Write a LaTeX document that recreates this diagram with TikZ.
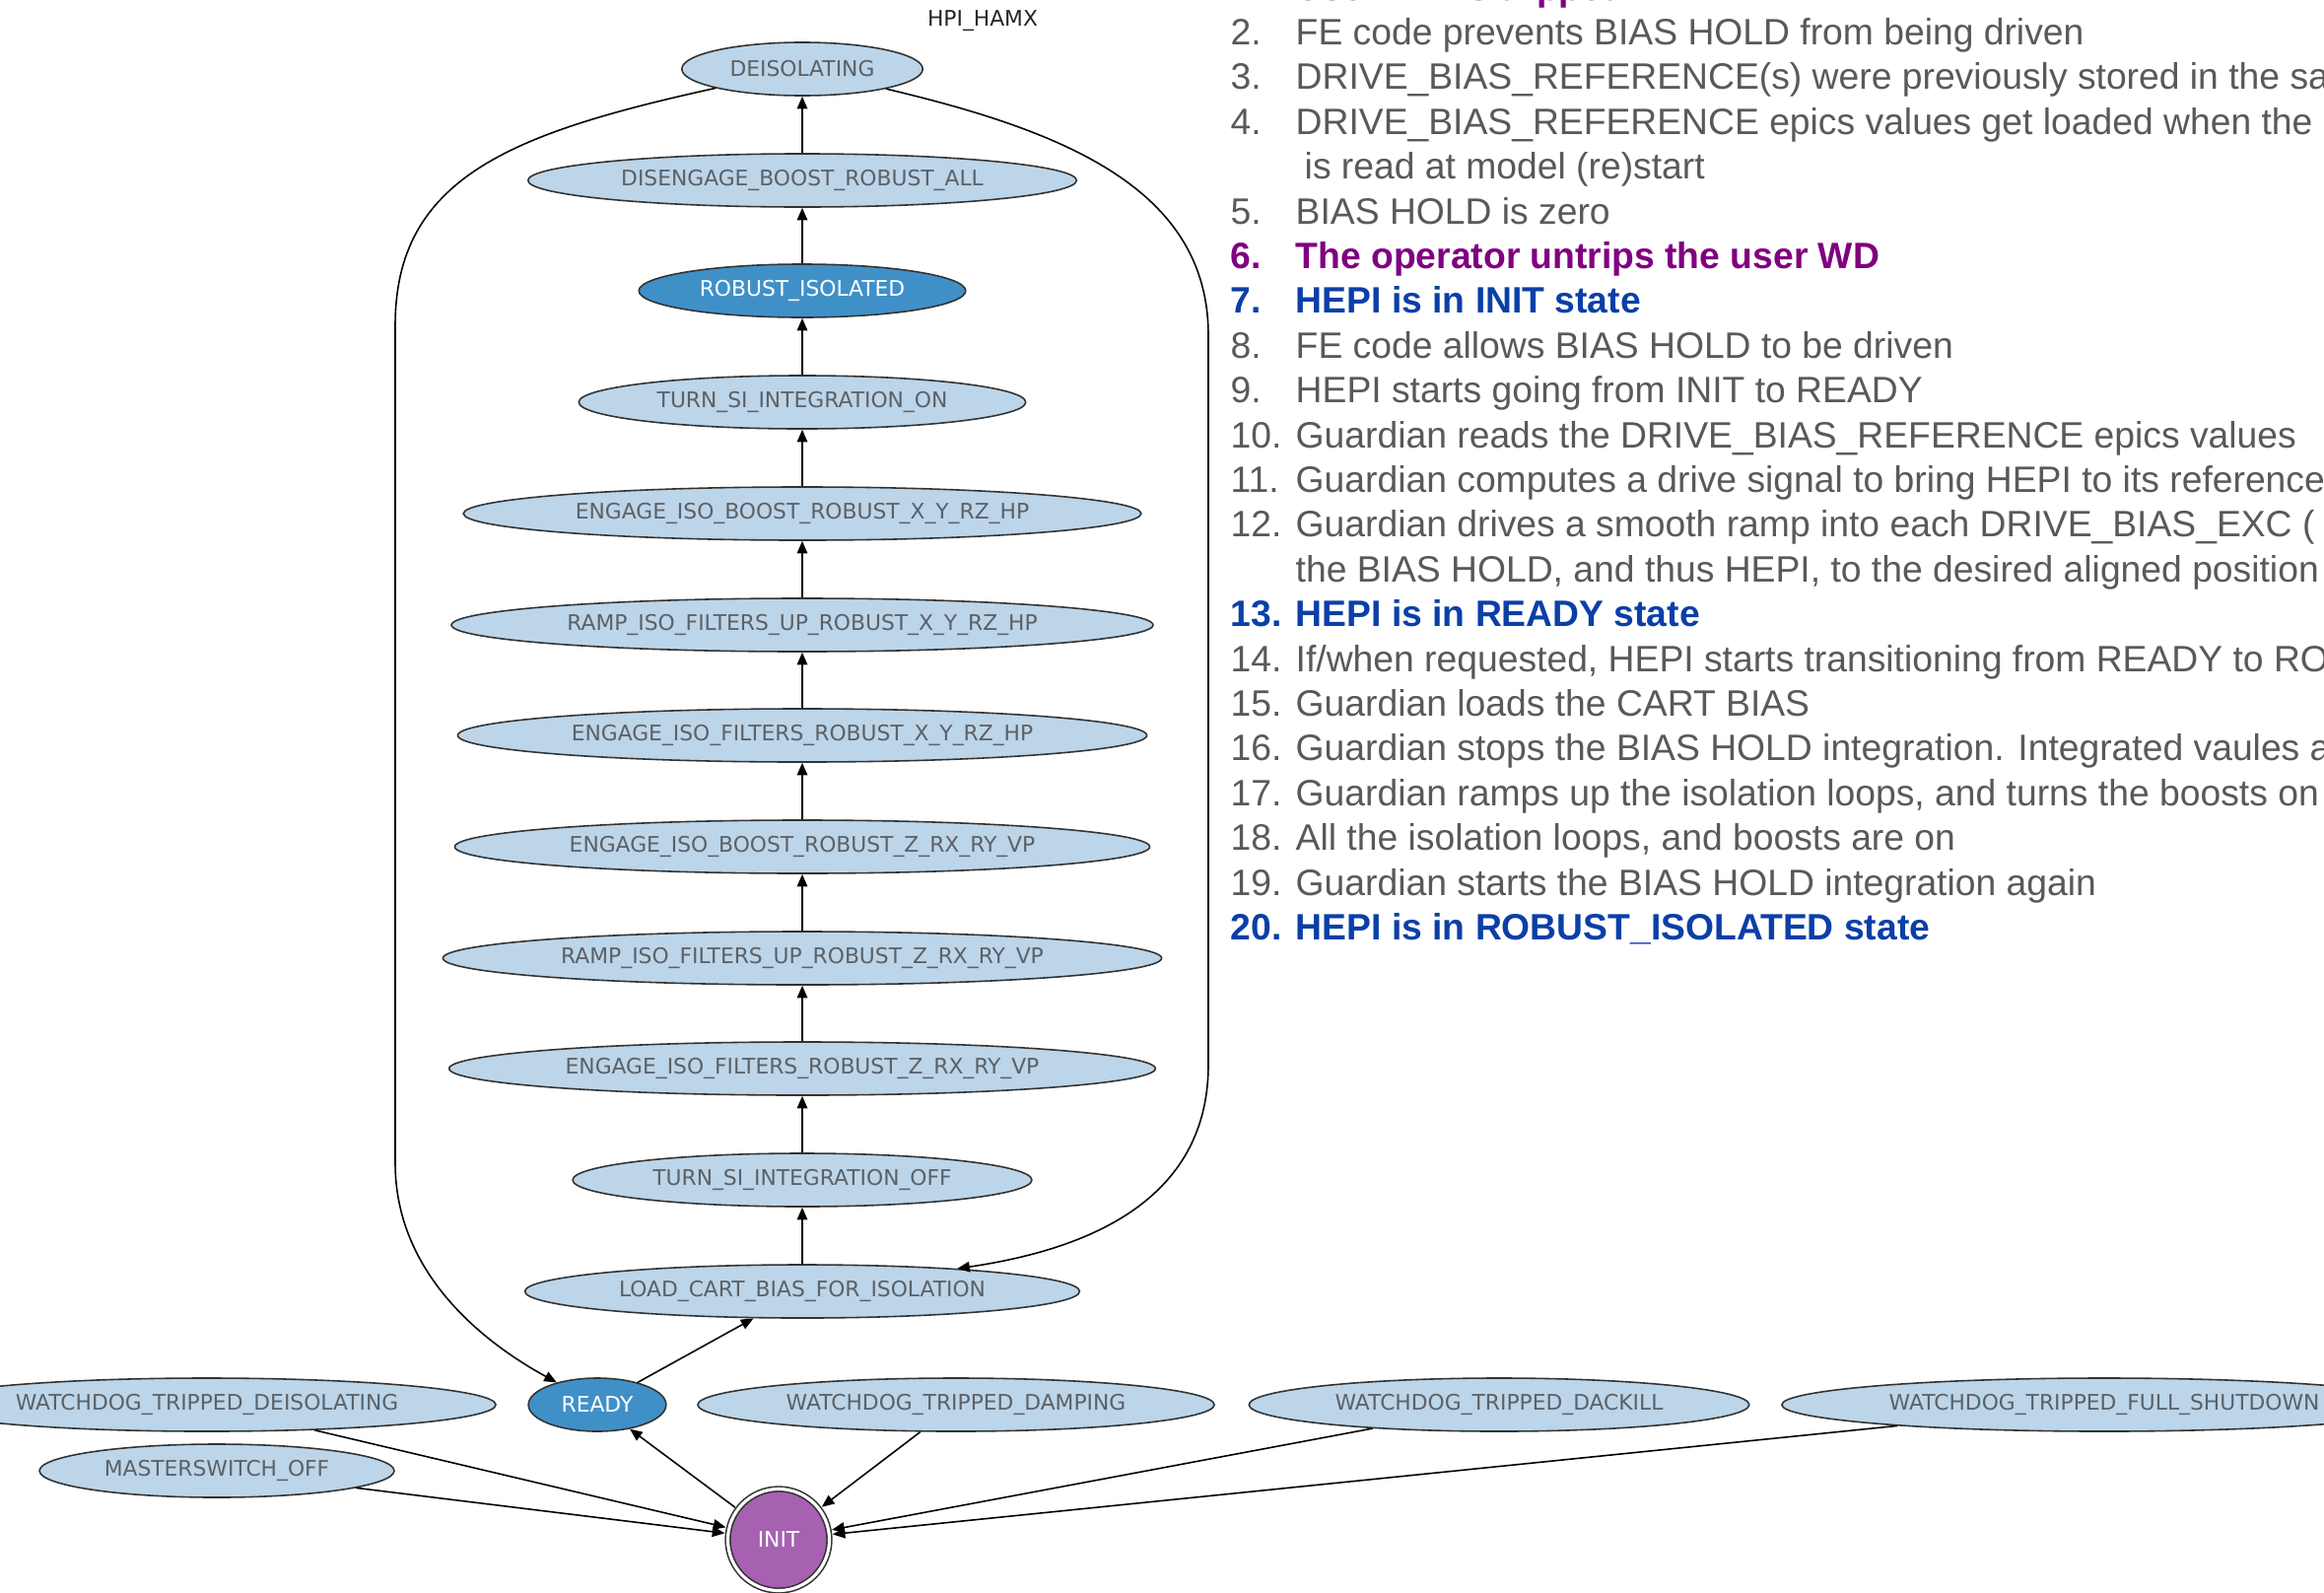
\documentclass[tikz,border=0pt]{standalone}
\usepackage{fontspec}
\newfontfamily\dejavu{DejaVu Sans}
\newfontfamily\helv{Liberation Sans}
\newcommand\listfont{\helv\fontsize{10.6}{12}\selectfont}
\usetikzlibrary{shapes.geometric,arrows.meta}
\definecolor{statefill}{HTML}{BCD5E9}
\definecolor{activefill}{HTML}{4090C8}
\definecolor{initfill}{HTML}{A661B0}
\definecolor{stategray}{HTML}{5C6166}
\definecolor{listgray}{HTML}{595959}
\definecolor{listpurple}{HTML}{7F0080}
\definecolor{listblue}{HTML}{0B3FA8}

\begin{document}
\begin{tikzpicture}[x=0.01cm, y=-0.01cm,
  every node/.style={font=\dejavu\fontsize{6.2}{7}\selectfont},
  state/.style={ellipse, draw=black!80, line width=0.45pt, fill=statefill, text=stategray,
    inner xsep=0.13cm, inner ysep=1pt, minimum height=0.54cm},
  active/.style={state, fill=activefill, text=white},
  link/.style={-{Triangle[length=3.6pt,width=3pt]}, line width=0.45pt},
  item/.style={anchor=base west, inner sep=0pt, font=\listfont, text=listgray},
  warn/.style={item, font=\listfont\bfseries, text=listpurple},
  goal/.style={item, font=\listfont\bfseries, text=listblue}]
  \useasboundingbox (0,0) rectangle (2358,1615);
  \clip (0,0) rectangle (2358,1615);

  \node[text=black!85] (title) at (997,21) {HPI\_HAMX};
  \node[state]  (deiso)     at (814,70)   {DEISOLATING};
  \node[state]  (disengage) at (814,183)  {DISENGAGE\_BOOST\_ROBUST\_ALL};
  \node[active] (robust)    at (814,295)  {ROBUST\_ISOLATED};
  \node[state]  (siOn)      at (814,408)  {TURN\_SI\_INTEGRATION\_ON};
  \node[state]  (boostXY)   at (814,521)  {ENGAGE\_ISO\_BOOST\_ROBUST\_X\_Y\_RZ\_HP};
  \node[state]  (rampXY)    at (814,634)  {RAMP\_ISO\_FILTERS\_UP\_ROBUST\_X\_Y\_RZ\_HP};
  \node[state]  (filtXY)    at (814,746)  {ENGAGE\_ISO\_FILTERS\_ROBUST\_X\_Y\_RZ\_HP};
  \node[state]  (boostZ)    at (814,859)  {ENGAGE\_ISO\_BOOST\_ROBUST\_Z\_RX\_RY\_VP};
  \node[state]  (rampZ)     at (814,972)  {RAMP\_ISO\_FILTERS\_UP\_ROBUST\_Z\_RX\_RY\_VP};
  \node[state]  (filtZ)     at (814,1084) {ENGAGE\_ISO\_FILTERS\_ROBUST\_Z\_RX\_RY\_VP};
  \node[state]  (siOff)     at (814,1197) {TURN\_SI\_INTEGRATION\_OFF};
  \node[state]  (loadBias)  at (814,1310) {LOAD\_CART\_BIAS\_FOR\_ISOLATION};

  \node[state]  (wdDeiso)   at (210,1425)  {WATCHDOG\_TRIPPED\_DEISOLATING};
  \node[active] (ready)     at (606,1425)  {READY};
  \node[state]  (wdDamp)    at (970,1425)  {WATCHDOG\_TRIPPED\_DAMPING};
  \node[state]  (wdDackill) at (1521,1425) {WATCHDOG\_TRIPPED\_DACKILL};
  \node[state]  (wdFull)    at (2135,1425) {WATCHDOG\_TRIPPED\_FULL\_SHUTDOWN};
  \node[state]  (master)    at (220,1492)  {MASTERSWITCH\_OFF};
  \node[circle, draw=black!80, line width=0.45pt, double=white, double distance=0.9pt,
    fill=initfill, text=white, minimum size=1.03cm, outer sep=1pt] (init) at (790,1562) {INIT};

  \draw[link] (loadBias) -- (siOff);
  \draw[link] (siOff) -- (filtZ);
  \draw[link] (filtZ) -- (rampZ);
  \draw[link] (rampZ) -- (boostZ);
  \draw[link] (boostZ) -- (filtXY);
  \draw[link] (filtXY) -- (rampXY);
  \draw[link] (rampXY) -- (boostXY);
  \draw[link] (boostXY) -- (siOn);
  \draw[link] (siOn) -- (robust);
  \draw[link] (robust) -- (disengage);
  \draw[link] (disengage) -- (deiso);
  \draw[link] (deiso) .. controls (519,135) and (401,180) .. (401,330) -- (401,1180)
    .. controls (401,1280) and (473,1352) .. (ready);
  \draw[link] (deiso) .. controls (1076,132) and (1226,190) .. (1226,340) -- (1226,1080)
    .. controls (1226,1220) and (1100,1268) .. (loadBias);
  \draw[link] (ready) -- (loadBias);
  \draw[link] (init) -- (ready);
  \draw[link] (wdDeiso) -- (init);
  \draw[link] (master) -- (init);
  \draw[link] (wdDamp) -- (init);
  \draw[link] (wdDackill) -- (init);
  \draw[link] (wdFull) -- (init);

  \node[warn] (n1)  at (1248,0)    {1.};
  \node[warn] (t1)  at (1314,0)    {User WD is tripped};
  \node[item] (n2)  at (1248,45)   {2.};
  \node[item] (t2)  at (1314,45)   {FE code prevents BIAS HOLD from being driven};
  \node[item] (n3)  at (1248,90)   {3.};
  \node[item] (t3)  at (1314,90)   {DRIVE\_BIAS\_REFERENCE(s) were previously stored in the sa};
  \node[item] (n4)  at (1248,136)  {4.};
  \node[item] (t4)  at (1314,136)  {DRIVE\_BIAS\_REFERENCE epics values get loaded when the};
  \node[item] (t4b) at (1323,181)  {is read at model (re)start};
  \node[item] (n5)  at (1248,227)  {5.};
  \node[item] (t5)  at (1314,227)  {BIAS HOLD is zero};
  \node[warn] (n6)  at (1248,272)  {6.};
  \node[warn] (t6)  at (1314,272)  {The operator untrips the user WD};
  \node[goal] (n7)  at (1248,317)  {7.};
  \node[goal] (t7)  at (1314,317)  {HEPI is in INIT state};
  \node[item] (n8)  at (1248,363)  {8.};
  \node[item] (t8)  at (1314,363)  {FE code allows BIAS HOLD to be driven};
  \node[item] (n9)  at (1248,408)  {9.};
  \node[item] (t9)  at (1314,408)  {HEPI starts going from INIT to READY};
  \node[item] (n10) at (1248,454)  {10.};
  \node[item] (t10) at (1314,454)  {Guardian reads the DRIVE\_BIAS\_REFERENCE epics values};
  \node[item] (n11) at (1248,499)  {11.};
  \node[item] (t11) at (1314,499)  {Guardian computes a drive signal to bring HEPI to its reference};
  \node[item] (n12) at (1248,544)  {12.};
  \node[item] (t12) at (1314,544)  {Guardian drives a smooth ramp into each DRIVE\_BIAS\_EXC (};
  \node[item] (t12b) at (1314,590) {the BIAS HOLD, and thus HEPI, to the desired aligned position};
  \node[goal] (n13) at (1248,635)  {13.};
  \node[goal] (t13) at (1314,635)  {HEPI is in READY state};
  \node[item] (n14) at (1248,681)  {14.};
  \node[item] (t14) at (1314,681)  {If/when requested, HEPI starts transitioning from READY to RO};
  \node[item] (n15) at (1248,726)  {15.};
  \node[item] (t15) at (1314,726)  {Guardian loads the CART BIAS};
  \node[item] (n16) at (1248,771)  {16.};
  \node[item] (t16) at (1314,771)  {Guardian stops the BIAS HOLD integration. Integrated vaules a};
  \node[item] (n17) at (1248,817)  {17.};
  \node[item] (t17) at (1314,817)  {Guardian ramps up the isolation loops, and turns the boosts on};
  \node[item] (n18) at (1248,862)  {18.};
  \node[item] (t18) at (1314,862)  {All the isolation loops, and boosts are on};
  \node[item] (n19) at (1248,908)  {19.};
  \node[item] (t19) at (1314,908)  {Guardian starts the BIAS HOLD integration again};
  \node[goal] (n20) at (1248,953)  {20.};
  \node[goal] (t20) at (1314,953)  {HEPI is in ROBUST\_ISOLATED state};
\end{tikzpicture}
\end{document}
